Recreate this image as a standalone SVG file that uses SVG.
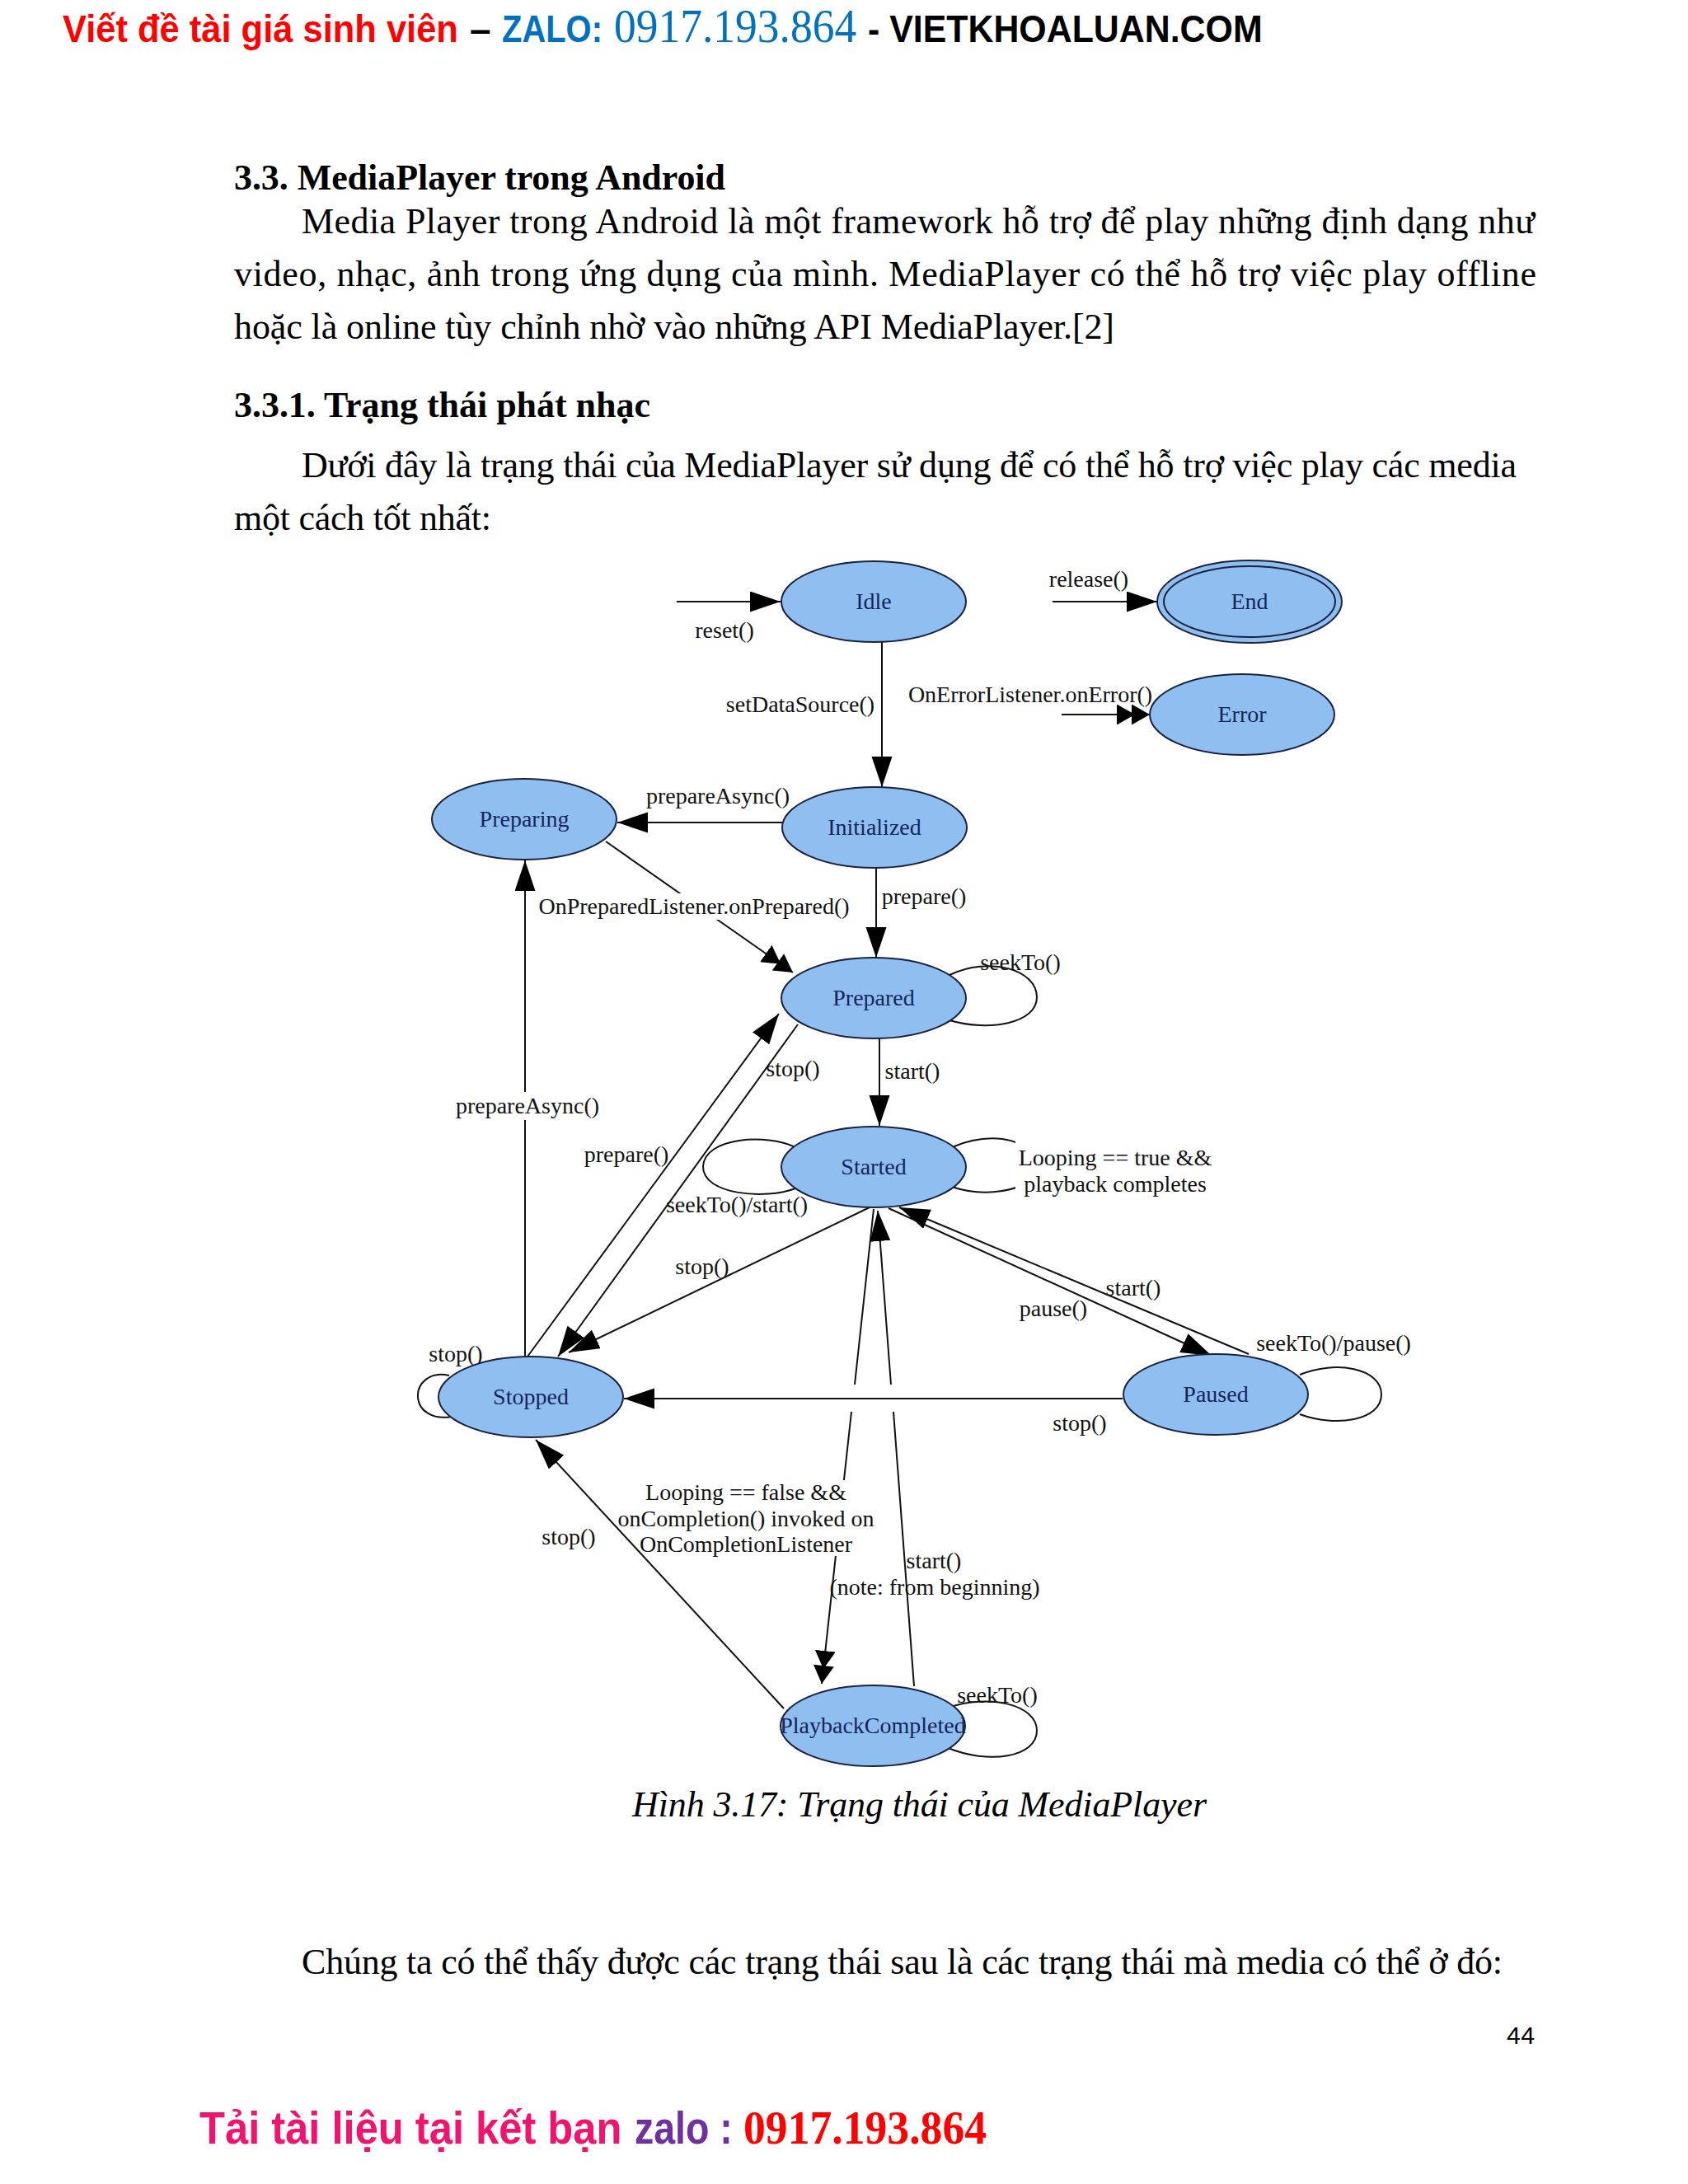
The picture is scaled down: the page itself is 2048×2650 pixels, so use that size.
<svg xmlns="http://www.w3.org/2000/svg" width="2048" height="2650" viewBox="0 0 2048 2650">
<style>
.body{font-family:"Liberation Serif","Times New Roman",serif;font-size:44px;fill:#000}
.bold{font-weight:bold}
.hdr{font-family:"Liberation Sans",Arial,sans-serif;font-weight:bold;font-size:46px}
.ftr{font-family:"Liberation Sans",Arial,sans-serif;font-weight:bold;font-size:56px}
.node ellipse{fill:#8FBFF1;stroke:#1b2240;stroke-width:2}
.node text{font-family:"Liberation Serif","Times New Roman",serif;font-size:28px;fill:#16245a;text-anchor:middle}
.edge{stroke:#111;stroke-width:2;fill:none}
.lbl{font-family:"Liberation Serif","Times New Roman",serif;font-size:28px;fill:#111;text-anchor:middle}
.bg{fill:#fff}
</style>
<defs>
<marker id="arr" markerUnits="userSpaceOnUse" markerWidth="40" markerHeight="28" refX="37" refY="12.5" orient="auto">
<path d="M0,0 L37,12.5 L0,25 z" fill="#000"/>
</marker>
<marker id="arr2" markerUnits="userSpaceOnUse" markerWidth="44" markerHeight="28" refX="40" refY="12.5" orient="auto">
<path d="M0,0 L22,12.5 L0,25 z M18,0 L40,12.5 L18,25 z" fill="#000"/>
</marker>
</defs>
<rect x="0" y="0" width="2048" height="2650" fill="#fff"/>

<!-- header -->
<text class="hdr" transform="translate(76,51) scale(0.945,1)" fill="#FF0000">Viết đề tài giá sinh viên</text>
<text class="hdr" x="570" y="51" fill="#000">–</text>
<text class="hdr" transform="translate(609,51) scale(0.868,1)" fill="#0070C0">ZALO:</text>
<text transform="translate(745,51) scale(0.955,1)" font-family="Liberation Serif, serif" font-size="56" fill="#0070C0">0917.193.864</text>
<text class="hdr" transform="translate(1053,51) scale(0.932,1)" fill="#000">- VIETKHOALUAN.COM</text>

<!-- body text -->
<text class="body bold" x="284" y="230" textLength="596">3.3. MediaPlayer trong Android</text>
<text class="body" x="366" y="283" textLength="1496">Media Player trong Android là một framework hỗ trợ để play những định dạng như</text>
<text class="body" x="284" y="347" textLength="1580">video, nhạc, ảnh trong ứng dụng của mình. MediaPlayer có thể hỗ trợ việc play offline</text>
<text class="body" x="284" y="411" textLength="1068">hoặc là online tùy chỉnh nhờ vào những API MediaPlayer.[2]</text>
<text class="body bold" x="284" y="506" textLength="505">3.3.1. Trạng thái phát nhạc</text>
<text class="body" x="366" y="579" textLength="1474">Dưới đây là trạng thái của MediaPlayer sử dụng để có thể hỗ trợ việc play các media</text>
<text class="body" x="284" y="643" textLength="312">một cách tốt nhất:</text>

<!-- connectors -->
<g id="connectors">
<line class="edge" x1="821" y1="730" x2="947" y2="730" marker-end="url(#arr)"/>
<line class="edge" x1="1277" y1="730" x2="1404" y2="730" marker-end="url(#arr)"/>
<line class="edge" x1="1288" y1="867" x2="1395" y2="867" marker-end="url(#arr2)"/>
<line class="edge" x1="1070" y1="779" x2="1070" y2="955" marker-end="url(#arr)"/>
<line class="edge" x1="949" y1="998" x2="749" y2="998" marker-end="url(#arr)"/>
<line class="edge" x1="1063" y1="1053" x2="1063" y2="1162" marker-end="url(#arr)"/>
<line class="edge" x1="735" y1="1021" x2="962" y2="1180" marker-end="url(#arr2)"/>
<path class="edge" d="M1152,1183 C1200,1160 1258,1176 1258,1210 C1258,1242 1200,1252 1152,1238"/>
<line class="edge" x1="1067" y1="1260" x2="1067" y2="1366" marker-end="url(#arr)"/>
<path class="edge" d="M965,1392 C930,1375 855,1380 853,1415 C852,1450 930,1456 965,1442"/>
<path class="edge" d="M1155,1392 C1195,1375 1232,1380 1245,1395"/>
<path class="edge" d="M1155,1440 C1190,1452 1225,1446 1245,1436"/>
<line class="edge" x1="640" y1="1646" x2="945" y2="1230" marker-end="url(#arr)"/>
<line class="edge" x1="968" y1="1243" x2="677" y2="1646" marker-end="url(#arr)"/>
<line class="edge" x1="1055" y1="1465" x2="690" y2="1641" marker-end="url(#arr)"/>
<line class="edge" x1="1078" y1="1466" x2="1470" y2="1645" marker-end="url(#arr)"/>
<line class="edge" x1="1515" y1="1643" x2="1091" y2="1465" marker-end="url(#arr)"/>
<path class="edge" d="M1577,1668 C1620,1650 1676,1660 1676,1692 C1676,1724 1620,1732 1577,1716"/>
<line class="edge" x1="1362" y1="1697" x2="757" y2="1697" marker-end="url(#arr)"/>
<path class="edge" d="M545,1669 C520,1663 506,1680 507,1695 C508,1712 525,1723 548,1719"/>
<line class="edge" x1="637" y1="1646" x2="637" y2="1044" marker-end="url(#arr)"/>
<line class="edge" x1="1060" y1="1467" x2="1037" y2="1680"/>
<line class="edge" x1="1033" y1="1713" x2="997" y2="2043" marker-end="url(#arr2)"/>
<line class="edge" x1="1109" y1="2046" x2="1084" y2="1713"/>
<line class="edge" x1="1081" y1="1680" x2="1065" y2="1469" marker-end="url(#arr)"/>
<line class="edge" x1="951" y1="2073" x2="650" y2="1747" marker-end="url(#arr)"/>
<path class="edge" d="M1150,2072 C1200,2055 1258,2068 1258,2100 C1258,2132 1200,2142 1148,2120"/>
</g>

<!-- edge labels -->
<g id="edge-labels">
<rect class="bg" x="650" y="1084" width="384" height="32"/>
<rect class="bg" x="548" y="1325" width="182" height="34"/>
<rect class="bg" x="1232" y="1384" width="244" height="70"/>
<rect class="bg" x="996" y="1796" width="64" height="92"/>
<text class="lbl" x="879" y="774">reset()</text>
<text class="lbl" x="1321" y="712">release()</text>
<text class="lbl" x="1250" y="852">OnErrorListener.onError()</text>
<text class="lbl" x="971" y="864">setDataSource()</text>
<text class="lbl" x="871" y="975">prepareAsync()</text>
<text class="lbl" x="1121" y="1097">prepare()</text>
<text class="lbl" x="842" y="1109">OnPreparedListener.onPrepared()</text>
<text class="lbl" x="1238" y="1177">seekTo()</text>
<text class="lbl" x="1107" y="1309">start()</text>
<text class="lbl" x="962" y="1306">stop()</text>
<text class="lbl" x="760" y="1410">prepare()</text>
<text class="lbl" x="894" y="1471">seekTo()/start()</text>
<text class="lbl" x="1353" y="1414">Looping == true &amp;&amp;</text>
<text class="lbl" x="1353" y="1446">playback completes</text>
<text class="lbl" x="640" y="1351">prepareAsync()</text>
<text class="lbl" x="852" y="1546">stop()</text>
<text class="lbl" x="1375" y="1572">start()</text>
<text class="lbl" x="1278" y="1597">pause()</text>
<text class="lbl" x="1618" y="1639">seekTo()/pause()</text>
<text class="lbl" x="553" y="1652">stop()</text>
<text class="lbl" x="1310" y="1736">stop()</text>
<text class="lbl" x="905" y="1820">Looping == false &amp;&amp;</text>
<text class="lbl" x="905" y="1852">onCompletion() invoked on</text>
<text class="lbl" x="905" y="1883">OnCompletionListener</text>
<text class="lbl" x="690" y="1874">stop()</text>
<text class="lbl" x="1133" y="1903">start()</text>
<text class="lbl" x="1134" y="1935">(note: from beginning)</text>
<text class="lbl" x="1210" y="2066">seekTo()</text>
</g>

<!-- nodes -->
<g id="node-idle" class="node"><ellipse cx="1060" cy="730" rx="112" ry="49"/><text x="1060" y="739">Idle</text></g>
<g id="node-end" class="node"><ellipse cx="1516" cy="730" rx="112" ry="50"/><ellipse cx="1516" cy="730" rx="104" ry="43"/><text x="1516" y="739">End</text></g>
<g id="node-error" class="node"><ellipse cx="1507" cy="867" rx="112" ry="49"/><text x="1507" y="876">Error</text></g>
<g id="node-preparing" class="node"><ellipse cx="636" cy="994" rx="112" ry="49"/><text x="636" y="1003">Preparing</text></g>
<g id="node-initialized" class="node"><ellipse cx="1061" cy="1004" rx="112" ry="49"/><text x="1061" y="1013">Initialized</text></g>
<g id="node-prepared" class="node"><ellipse cx="1060" cy="1211" rx="112" ry="49"/><text x="1060" y="1220">Prepared</text></g>
<g id="node-started" class="node"><ellipse cx="1060" cy="1416" rx="112" ry="49"/><text x="1060" y="1425">Started</text></g>
<g id="node-stopped" class="node"><ellipse cx="644" cy="1695" rx="112" ry="49"/><text x="644" y="1704">Stopped</text></g>
<g id="node-paused" class="node"><ellipse cx="1475" cy="1692" rx="112" ry="49"/><text x="1475" y="1701">Paused</text></g>
<g id="node-playbackcompleted" class="node"><ellipse cx="1059" cy="2094" rx="112" ry="49"/><text x="1059" y="2103">PlaybackCompleted</text></g>

<!-- caption and trailing text -->
<text class="body" font-style="italic" x="767" y="2204" textLength="697">Hình 3.17: Trạng thái của MediaPlayer</text>
<text class="body" x="366" y="2395" textLength="1457">Chúng ta có thể thấy được các trạng thái sau là các trạng thái mà media có thể ở đó:</text>
<text x="1828" y="2480" font-family="Liberation Sans, Arial, sans-serif" font-size="30" fill="#000" textLength="34">44</text>

<!-- footer -->
<text class="ftr" transform="translate(242,2601) scale(0.905,1)" fill="#F0146E">Tải tài liệu tại kết bạn</text>
<text class="ftr" transform="translate(770,2601) scale(0.83,1)" fill="#7030A0">zalo :</text>
<text transform="translate(902,2601) scale(0.925,1)" font-family="Liberation Serif, serif" font-weight="bold" font-size="58" fill="#FF0000">0917.193.864</text>
</svg>
